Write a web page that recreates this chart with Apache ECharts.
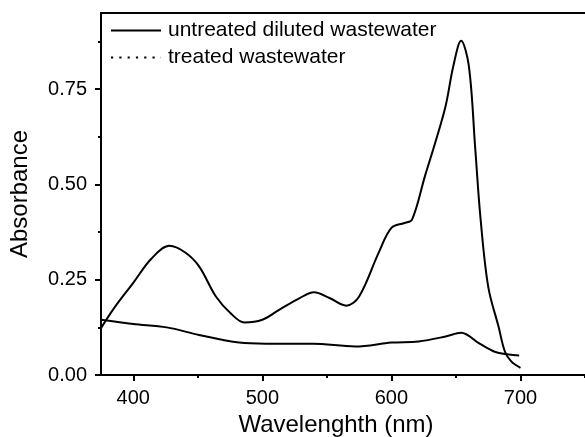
<!DOCTYPE html>
<html>
<head>
<meta charset="utf-8">
<script src="https://cdn.jsdelivr.net/npm/echarts@6/dist/echarts.min.js"></script>
<style>
  html, body { margin: 0; padding: 0; background: #fff; }
  #chart { width: 585px; height: 437px; }
</style>
</head>
<body>
<div id="chart"></div>
<script>
// UV-Vis absorbance spectra
const untreatedWavelength = [375, 385, 400, 414, 428, 440, 451, 464, 476, 486, 500, 513, 529, 540, 552, 565, 575, 590, 600, 610, 616, 626, 634, 642, 648, 654, 660, 665, 669, 675, 683, 688, 693, 700];
const untreatedAbs = [0.123, 0.175, 0.242, 0.305, 0.339, 0.322, 0.285, 0.206, 0.160, 0.138, 0.145, 0.171, 0.202, 0.217, 0.202, 0.182, 0.206, 0.320, 0.386, 0.399, 0.408, 0.522, 0.610, 0.706, 0.811, 0.877, 0.811, 0.592, 0.413, 0.232, 0.127, 0.061, 0.035, 0.019];

const treatedWavelength = [375, 400, 426, 451, 482, 503, 529, 539, 572, 600, 621, 642, 654, 668, 680, 691, 699];
const treatedAbs = [0.145, 0.134, 0.125, 0.105, 0.085, 0.082, 0.082, 0.082, 0.075, 0.085, 0.088, 0.101, 0.111, 0.083, 0.061, 0.054, 0.051];

const seriesNames = ['untreated diluted wastewater', 'treated wastewater'];
const xMajorTicks = [400, 500, 600, 700];
const xMinorTicks = [450, 550, 650, 750];
const yMajorTicks = [0, 0.25, 0.5, 0.75];
const yMinorTicks = [0.125, 0.375, 0.625, 0.875];

const zip = (xs, ys) => xs.map((x, i) => [x, ys[i]]);

const FONT = 'Liberation Sans, Arial, sans-serif';
const axisLineStyle = { color: '#000', width: 2 };

const chart = echarts.init(document.getElementById('chart'), null, { renderer: 'canvas' });
chart.setOption({
  animation: false,
  backgroundColor: '#fff',
  grid: { left: 101, right: 0, top: 13, bottom: 62, outerBoundsMode: 'none', containLabel: false },
  legend: {
    left: 105,
    top: 15,
    orient: 'vertical',
    itemWidth: 50,
    itemHeight: 16,
    itemGap: 6,
    itemStyle: { opacity: 0 },
    textStyle: { fontFamily: FONT, fontSize: 21, color: '#000', padding: [0, 0, 0, 2] },
    data: [
      { name: seriesNames[0] },
      { name: seriesNames[1], lineStyle: { type: [2.2, 6.1], width: 2, color: '#000' } }
    ]
  },
  xAxis: [
    {
      type: 'value', position: 'bottom', min: 375, max: 750,
      name: 'Wavelenghth (nm)', nameLocation: 'middle', nameGap: 37,
      nameTextStyle: { fontFamily: FONT, fontSize: 24, color: '#000', padding: [0, 14, 0, 0] },
      axisLine: { show: true, lineStyle: axisLineStyle },
      axisTick: { show: true, length: 6, customValues: xMajorTicks, lineStyle: axisLineStyle },
      axisLabel: { customValues: xMajorTicks, fontFamily: FONT, fontSize: 20, color: '#000', margin: 13 },
      splitLine: { show: false }
    },
    {
      type: 'value', position: 'bottom', min: 375, max: 750,
      axisLine: { show: false },
      axisTick: { show: true, length: 3, customValues: xMinorTicks, lineStyle: axisLineStyle },
      axisLabel: { show: false },
      splitLine: { show: false }
    },
    {
      type: 'value', position: 'top', min: 375, max: 750,
      axisLine: { show: true, lineStyle: axisLineStyle },
      axisTick: { show: false },
      axisLabel: { show: false },
      splitLine: { show: false }
    }
  ],
  yAxis: [
    {
      type: 'value', position: 'left', min: 0, max: 0.95,
      name: 'Absorbance', nameLocation: 'middle', nameGap: 69,
      nameTextStyle: { fontFamily: FONT, fontSize: 24, color: '#000' },
      axisLine: { show: true, lineStyle: axisLineStyle },
      axisTick: { show: true, length: 6, customValues: yMajorTicks, lineStyle: axisLineStyle },
      axisLabel: {
        customValues: yMajorTicks, fontFamily: FONT, fontSize: 20, color: '#000', margin: 14,
        formatter: v => v.toFixed(2)
      },
      splitLine: { show: false }
    },
    {
      type: 'value', position: 'left', min: 0, max: 0.95,
      axisLine: { show: false },
      axisTick: { show: true, length: 3, customValues: yMinorTicks, lineStyle: axisLineStyle },
      axisLabel: { show: false },
      splitLine: { show: false }
    }
  ],
  series: [
    {
      name: seriesNames[0], type: 'line', xAxisIndex: 0, yAxisIndex: 0,
      data: zip(untreatedWavelength, untreatedAbs),
      smooth: 0.35, symbol: 'none',
      lineStyle: { color: '#000', width: 2 },
      itemStyle: { color: '#000' }
    },
    {
      name: seriesNames[1], type: 'line', xAxisIndex: 0, yAxisIndex: 0,
      data: zip(treatedWavelength, treatedAbs),
      smooth: 0.35, symbol: 'none',
      lineStyle: { color: '#000', width: 2 },
      itemStyle: { color: '#000' }
    }
  ]
});
</script>
</body>
</html>
